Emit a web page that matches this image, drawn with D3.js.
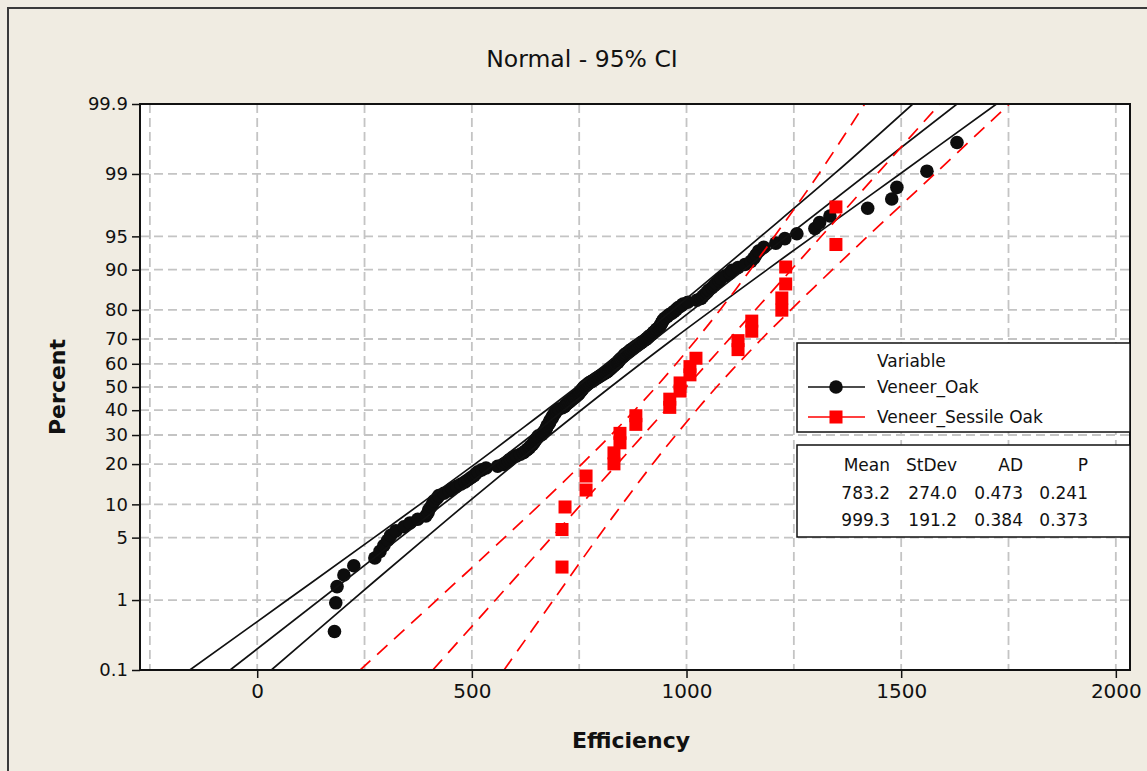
<!DOCTYPE html>
<html>
<head>
<meta charset="utf-8">
<script src="https://cdn.jsdelivr.net/npm/d3@7"></script>
<style>
  body { margin: 0; background: #f0ece2; }
  svg { display: block; }
  text { font-family: "DejaVu Sans", Verdana, sans-serif; fill: #111; }
</style>
</head>
<body>
<svg id="chart" width="1147" height="771"></svg>
<script>
// Efficiency values, sorted (plotted at median ranks)
const oakValues = [
  180, 183, 186, 202, 225, 274, 286, 295, 304, 311,
  323, 342, 356, 374, 393, 398, 400, 405, 409, 412,
  419, 423, 435, 447, 454, 465, 475, 484, 491, 498,
  505, 509, 514, 523, 533, 560, 573, 580, 585, 590,
  595, 604, 613, 620, 625, 629, 634, 636, 641, 643,
  646, 648, 650, 653, 655, 663, 666, 668, 671, 673,
  674, 675, 677, 680, 681, 682, 684, 687, 688, 689,
  692, 694, 696, 698, 703, 711, 716, 718, 721, 725,
  728, 732, 735, 739, 742, 746, 749, 751, 753, 756,
  758, 760, 763, 767, 770, 774, 779, 784, 788, 793,
  797, 802, 807, 812, 816, 819, 823, 826, 830, 833,
  835, 840, 842, 844, 847, 851, 854, 856, 860, 865,
  868, 872, 877, 881, 886, 891, 895, 900, 905, 909,
  912, 916, 921, 923, 928, 930, 935, 938, 940, 942,
  944, 946, 950, 955, 959, 966, 971, 976, 980, 987,
  992, 1003, 1024, 1034, 1038, 1043, 1048, 1052, 1059, 1064,
  1069, 1076, 1080, 1090, 1101, 1106, 1120, 1136, 1150, 1157,
  1162, 1168, 1180, 1208, 1229, 1257, 1299, 1310, 1334, 1422,
  1478, 1490, 1560, 1630
];
const sessileValues = [
  710, 710, 717, 766, 766, 831, 831, 845, 845, 882,
  882, 961, 961, 985, 985, 1008, 1008, 1022, 1120, 1120,
  1152, 1152, 1222, 1222, 1231, 1231, 1348, 1348
];

// fitted line ends (at 0.1 and 99.9 percent) and 95% CI bands
const fitEnds = [0.1, 99.9];
const oakFit = [-63, 1630];
const sessileFit = [409, 1590];
const bandPct = [0.1, 1, 5, 10, 20, 30, 50, 70, 80, 90, 95, 99, 99.9];
const oakLower = [-157, 70, 272, 379, 507, 597, 744, 885, 968, 1081, 1173, 1344, 1527];
const oakUpper = [33, 222, 393, 485, 599, 682, 823, 969, 1060, 1188, 1295, 1497, 1722];
const sessileLower = [240, 418, 576, 659, 756, 824, 929, 1024, 1078, 1149, 1205, 1308, 1415];
const sessileUpper = [575, 690, 793, 850, 921, 975, 1070, 1175, 1243, 1340, 1422, 1578, 1752];

const pctTicks = [0.1, 1, 5, 10, 20, 30, 40, 50, 60, 70, 80, 90, 95, 99, 99.9];
const xTicks = [0, 500, 1000, 1500, 2000];
const xGrid = [-250, 0, 250, 500, 750, 1000, 1250, 1500, 1750, 2000];

const seriesNames = ["Veneer_Oak", "Veneer_Sessile Oak"];
const statsHeader = ["Mean", "StDev", "AD", "P"];
const statsRows = [
  ["783.2", "274.0", "0.473", "0.241"],
  ["999.3", "191.2", "0.384", "0.373"]
];

// inverse normal cdf (Acklam) for the probability axis
function qnorm(p) {
  const a = [-3.969683028665376e+01, 2.209460984245205e+02, -2.759285104469687e+02, 1.383577518672690e+02, -3.066479806614716e+01, 2.506628277459239e+00];
  const b = [-5.447609879822406e+01, 1.615858368580409e+02, -1.556989798598866e+02, 6.680131188771972e+01, -1.328068155288572e+01];
  const c = [-7.784894002430293e-03, -3.223964580411365e-01, -2.400758277161838e+00, -2.549732539343734e+00, 4.374664141464968e+00, 2.938163982698783e+00];
  const d = [7.784695709041462e-03, 3.224671290700398e-01, 2.445134137142996e+00, 3.754408661907416e+00];
  const plow = 0.02425;
  let q, r;
  if (p < plow) {
    q = Math.sqrt(-2 * Math.log(p));
    return (((((c[0] * q + c[1]) * q + c[2]) * q + c[3]) * q + c[4]) * q + c[5]) /
      ((((d[0] * q + d[1]) * q + d[2]) * q + d[3]) * q + 1);
  }
  if (p > 1 - plow) {
    q = Math.sqrt(-2 * Math.log(1 - p));
    return -(((((c[0] * q + c[1]) * q + c[2]) * q + c[3]) * q + c[4]) * q + c[5]) /
      ((((d[0] * q + d[1]) * q + d[2]) * q + d[3]) * q + 1);
  }
  q = p - 0.5;
  r = q * q;
  return (((((a[0] * r + a[1]) * r + a[2]) * r + a[3]) * r + a[4]) * r + a[5]) * q /
    (((((b[0] * r + b[1]) * r + b[2]) * r + b[3]) * r + b[4]) * r + 1);
}

const svg = d3.select("#chart");
const W = 1147, H = 771;
const plot = { left: 140, right: 1130, top: 104, bottom: 670 };

const x = d3.scaleLinear().domain([-273, 2033]).range([plot.left, plot.right]);
const zTop = qnorm(0.999);
const yz = d3.scaleLinear().domain([-zTop, zTop]).range([plot.bottom, plot.top]);
const yp = p => yz(qnorm(p / 100));

// outer frame
svg.append("rect").attr("x", 0).attr("y", 0).attr("width", W).attr("height", H).attr("fill", "#f0ece2");
svg.append("rect")
  .attr("x", 8).attr("y", 8).attr("width", W + 20).attr("height", H + 20)
  .attr("fill", "none").attr("stroke", "#3a3a3a").attr("stroke-width", 2);

svg.append("text")
  .attr("x", 582).attr("y", 67)
  .attr("text-anchor", "middle")
  .style("font-size", "23.5px")
  .text("Normal - 95% CI");

svg.append("defs").append("clipPath").attr("id", "clip")
  .append("rect")
  .attr("x", plot.left).attr("y", plot.top)
  .attr("width", plot.right - plot.left).attr("height", plot.bottom - plot.top);

svg.append("rect")
  .attr("x", plot.left).attr("y", plot.top)
  .attr("width", plot.right - plot.left).attr("height", plot.bottom - plot.top)
  .attr("fill", "white");

// grid
const grid = svg.append("g").attr("stroke", "#c4c4c4").attr("stroke-width", 1.8).attr("stroke-dasharray", "9,5");
grid.selectAll("line.h")
  .data(pctTicks.filter(p => p > 0.1 && p < 99.9))
  .enter().append("line")
  .attr("x1", plot.left).attr("x2", plot.right)
  .attr("y1", d => yp(d)).attr("y2", d => yp(d));
grid.selectAll("line.v")
  .data(xGrid)
  .enter().append("line")
  .attr("x1", d => x(d)).attr("x2", d => x(d))
  .attr("y1", plot.top).attr("y2", plot.bottom);

// axes
const yAxis = d3.axisLeft(yz)
  .tickValues(pctTicks.map(p => qnorm(p / 100)))
  .tickFormat((d, i) => String(pctTicks[i]))
  .tickSize(8).tickPadding(4);
const gy = svg.append("g").attr("transform", `translate(${plot.left},0)`).call(yAxis);
gy.select(".domain").remove();
gy.selectAll("line").attr("stroke", "#111").attr("stroke-width", 1.5);
gy.selectAll("text").style("font-size", "18px").attr("fill", "#111");

const xAxis = d3.axisBottom(x).tickValues(xTicks).tickFormat(d3.format("d")).tickSize(8).tickPadding(6);
const gx = svg.append("g").attr("transform", `translate(0,${plot.bottom})`).call(xAxis);
gx.select(".domain").remove();
gx.selectAll("line").attr("stroke", "#111").attr("stroke-width", 1.5);
gx.selectAll("text").style("font-size", "20px").attr("fill", "#111");

svg.append("text")
  .attr("transform", `translate(57,387) rotate(-90)`)
  .attr("text-anchor", "middle").attr("dy", "0.35em")
  .style("font-size", "22px").style("font-weight", "bold")
  .text("Percent");
svg.append("text")
  .attr("x", 631).attr("y", 748)
  .attr("text-anchor", "middle")
  .style("font-size", "22px").style("font-weight", "bold")
  .text("Efficiency");

// series
const layer = svg.append("g").attr("clip-path", "url(#clip)");
const curve = d3.line().x(d => x(d[0])).y(d => yp(d[1])).curve(d3.curveCatmullRom);
const rankPct = (i, n) => 100 * (i + 1 - 0.3) / (n + 0.4);

function drawLines(fit, lower, upper, color, dash) {
  const g = layer.append("g").attr("fill", "none").attr("stroke", color)
    .attr("stroke-width", 1.7).attr("stroke-dasharray", dash);
  g.append("path").attr("d", curve(fit.map((v, i) => [v, fitEnds[i]])));
  g.append("path").attr("d", curve(lower.map((v, i) => [v, bandPct[i]])));
  g.append("path").attr("d", curve(upper.map((v, i) => [v, bandPct[i]])));
}

layer.append("g").selectAll("circle")
  .data(oakValues)
  .enter().append("circle")
  .attr("cx", d => x(d))
  .attr("cy", (d, i) => yp(rankPct(i, oakValues.length)))
  .attr("r", 6.8)
  .attr("fill", "#0d0d0d");
drawLines(oakFit, oakLower, oakUpper, "#111", null);

layer.append("g").selectAll("rect")
  .data(sessileValues)
  .enter().append("rect")
  .attr("x", d => x(d) - 6.5)
  .attr("y", (d, i) => yp(rankPct(i, sessileValues.length)) - 6.5)
  .attr("width", 13).attr("height", 13)
  .attr("fill", "#ff0000");
drawLines(sessileFit, sessileLower, sessileUpper, "#ff0000", "14,9");

svg.append("rect")
  .attr("x", plot.left).attr("y", plot.top)
  .attr("width", plot.right - plot.left).attr("height", plot.bottom - plot.top)
  .attr("fill", "none").attr("stroke", "#111").attr("stroke-width", 2);

// legend
const leg = svg.append("g");
leg.append("rect").attr("x", 797).attr("y", 343).attr("width", 333).attr("height", 89)
  .attr("fill", "white").attr("stroke", "#111").attr("stroke-width", 1.5);
leg.append("text").attr("x", 877).attr("y", 367).style("font-size", "17px").text("Variable");
const legRows = [
  { y: 387, color: "#111", shape: "circle" },
  { y: 417, color: "#ff0000", shape: "square" }
];
legRows.forEach((r, i) => {
  leg.append("line").attr("x1", 808).attr("x2", 865).attr("y1", r.y).attr("y2", r.y)
    .attr("stroke", r.color).attr("stroke-width", 1.5);
  if (r.shape === "circle") {
    leg.append("circle").attr("cx", 836).attr("cy", r.y).attr("r", 6.8).attr("fill", "#0d0d0d");
  } else {
    leg.append("rect").attr("x", 836 - 6.5).attr("y", r.y - 6.5).attr("width", 13).attr("height", 13).attr("fill", "#ff0000");
  }
  leg.append("text").attr("x", 877).attr("y", r.y + 6).style("font-size", "17px").text(seriesNames[i]);
});

const stats = svg.append("g");
stats.append("rect").attr("x", 797).attr("y", 445).attr("width", 333).attr("height", 92)
  .attr("fill", "white").attr("stroke", "#111").attr("stroke-width", 1.5);
const colRight = [890, 957, 1023, 1088];
[statsHeader].concat(statsRows).forEach((row, ri) => {
  row.forEach((t, ci) => {
    stats.append("text")
      .attr("x", colRight[ci]).attr("y", 471 + ri * 27.5)
      .attr("text-anchor", "end")
      .style("font-size", "17px")
      .text(t);
  });
});
</script>
</body>
</html>
